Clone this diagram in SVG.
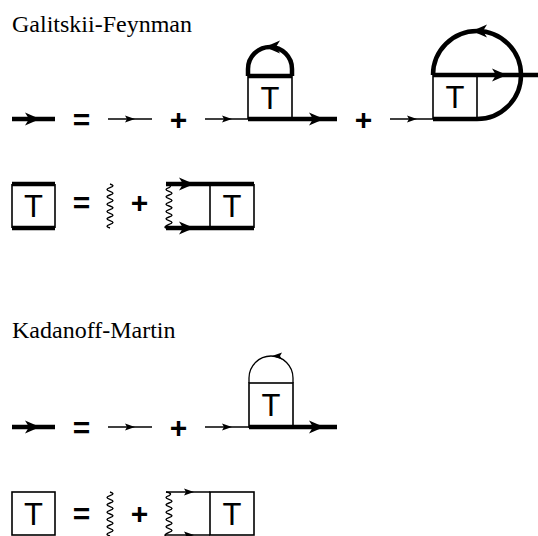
<svg xmlns="http://www.w3.org/2000/svg" width="538" height="536" viewBox="0 0 538 536">
<style>
.bg{fill:#fff}
.thick{stroke:#000;stroke-width:4.5;fill:none}
.thin{stroke:#000;stroke-width:1.3;fill:none}
.side{stroke:#000;stroke-width:1.6;fill:none}
.wave{stroke:#000;stroke-width:1.4;fill:none;stroke-linejoin:round}
.title{font-family:"Liberation Serif","Times New Roman",serif;font-size:24px;fill:#000}
.sym{font-family:"Liberation Sans",Arial,sans-serif;font-weight:bold;font-size:30px;fill:#000;text-anchor:middle}
.tl{font-family:"Liberation Sans",Arial,sans-serif;font-size:31px;fill:#000;text-anchor:middle}
.head{fill:#000}
</style>
<defs>
<path id="hThin" class="head" d="M0,0 L-10,-3.6 L-8,0 L-10,3.6 z"/>
<path id="hThick" class="head" d="M0,0 L-15,-6.5 L-11,0 L-15,6.5 z"/>
<path id="wv" class="wave" d="M110,0 Q116,1.83 110,3.67 Q104,5.5 110,7.33 Q116,9.17 110,11 Q104,12.83 110,14.67 Q116,16.5 110,18.33 Q104,20.17 110,22 Q116,23.83 110,25.67 Q104,27.5 110,29.33 Q116,31.17 110,33 Q104,34.83 110,36.67 Q116,38.5 110,40.33 Q104,42.17 110,44"/>
<path id="wv2" class="wave" d="M166,0 Q173,1.2 169,3.67 Q163,5.5 169,7.33 Q175,9.17 169,11 Q163,12.83 169,14.67 Q175,16.5 169,18.33 Q163,20.17 169,22 Q175,23.83 169,25.67 Q163,27.5 169,29.33 Q175,31.17 169,33 Q163,34.83 169,36.67 Q175,38.5 169,40.33 Q163,43 166,44"/>
</defs>
<rect class="bg" x="0" y="0" width="538" height="536"/>

<text class="title" x="12" y="32">Galitskii-Feynman</text>
<text class="title" x="12" y="338">Kadanoff-Martin</text>

<g id="symbols">
<text class="sym" x="81.5" y="130">=</text>
<text class="sym" x="178.5" y="130">+</text>
<text class="sym" x="363.5" y="130">+</text>
<text class="sym" x="81.5" y="213">=</text>
<text class="sym" x="139.5" y="213">+</text>
<text class="sym" x="81.5" y="438">=</text>
<text class="sym" x="178.5" y="438">+</text>
<text class="sym" x="81.5" y="524">=</text>
<text class="sym" x="139.5" y="524">+</text>
</g>

<g id="gf-dyson-lhs">
<line class="thick" x1="12" y1="119" x2="55" y2="119"/>
<use href="#hThick" transform="translate(40,119)"/>
</g>
<g id="gf-free">
<line class="thin" x1="108" y1="119" x2="152" y2="119"/>
<use href="#hThin" transform="translate(135,119)"/>
</g>
<g id="gf-hartree">
<line class="thin" x1="205" y1="119" x2="248" y2="119"/>
<use href="#hThin" transform="translate(232,119)"/>
<line class="side" x1="248" y1="76" x2="248" y2="119"/>
<line class="side" x1="292" y1="76" x2="292" y2="119"/>
<line class="thick" x1="248" y1="76" x2="292" y2="76"/>
<path class="thick" d="M248,76 L248,69 A22,22 0 0 1 292,69 L292,76"/>
<use href="#hThick" transform="translate(265,47) rotate(180)"/>
<line class="thick" x1="248" y1="119" x2="337" y2="119"/>
<use href="#hThick" transform="translate(324,119)"/>
<text class="tl" x="270" y="108.5">T</text>
</g>
<g id="gf-fock">
<line class="thin" x1="390" y1="119" x2="433" y2="119"/>
<use href="#hThin" transform="translate(417,119)"/>
<line class="side" x1="433" y1="75" x2="433" y2="119"/>
<line class="side" x1="477" y1="75" x2="477" y2="119"/>
<line class="thick" x1="433" y1="119" x2="477" y2="119"/>
<line class="thick" x1="433" y1="75" x2="538" y2="75"/>
<use href="#hThick" transform="translate(507,75)"/>
<path class="thick" d="M433,75 A44,44 0 1 1 477,119"/>
<use href="#hThick" transform="translate(472,31) rotate(180)"/>
<text class="tl" x="455" y="108">T</text>
</g>

<g id="gf-T-lhs">
<line class="side" x1="12" y1="184" x2="12" y2="228"/>
<line class="side" x1="55" y1="184" x2="55" y2="228"/>
<line class="thick" x1="12" y1="184" x2="55" y2="184"/>
<line class="thick" x1="12" y1="228" x2="55" y2="228"/>
<text class="tl" x="33.5" y="217">T</text>
</g>
<g id="gf-V">
<use href="#wv" transform="translate(0,184)"/>
</g>
<g id="gf-ladder">
<use href="#wv2" transform="translate(0,184)"/>
<line class="thick" x1="166" y1="184" x2="254" y2="184"/>
<line class="thick" x1="166" y1="228" x2="254" y2="228"/>
<use href="#hThick" transform="translate(194,184)"/>
<use href="#hThick" transform="translate(194,228)"/>
<line class="side" x1="210" y1="184" x2="210" y2="228"/>
<line class="side" x1="254" y1="184" x2="254" y2="228"/>
<text class="tl" x="232" y="217">T</text>
</g>

<g id="km-dyson-lhs">
<line class="thick" x1="12" y1="427" x2="55" y2="427"/>
<use href="#hThick" transform="translate(40,427)"/>
</g>
<g id="km-free">
<line class="thin" x1="108" y1="427" x2="152" y2="427"/>
<use href="#hThin" transform="translate(135,427)"/>
</g>
<g id="km-hartree">
<line class="thin" x1="205" y1="427" x2="249" y2="427"/>
<use href="#hThin" transform="translate(232,427)"/>
<rect class="side" x="249" y="383" width="44" height="44"/>
<path class="thin" d="M249,383 L249,378 A22,22 0 0 1 293,378 L293,383"/>
<use href="#hThin" transform="translate(272,356) rotate(180)"/>
<line class="thick" x1="249" y1="427" x2="337" y2="427"/>
<use href="#hThick" transform="translate(324,427)"/>
<text class="tl" x="271" y="416">T</text>
</g>

<g id="km-T-lhs">
<rect class="side" x="12" y="492" width="43" height="43"/>
<text class="tl" x="33.5" y="525">T</text>
</g>
<g id="km-V">
<use href="#wv" transform="translate(0,492)"/>
</g>
<g id="km-ladder">
<use href="#wv2" transform="translate(0,492)"/>
<line class="thin" x1="166" y1="492" x2="210" y2="492"/>
<line class="thin" x1="166" y1="535" x2="210" y2="535"/>
<use href="#hThin" transform="translate(194,492)"/>
<use href="#hThin" transform="translate(194,535)"/>
<rect class="side" x="210" y="492" width="44" height="43"/>
<text class="tl" x="232" y="525">T</text>
</g>
</svg>
